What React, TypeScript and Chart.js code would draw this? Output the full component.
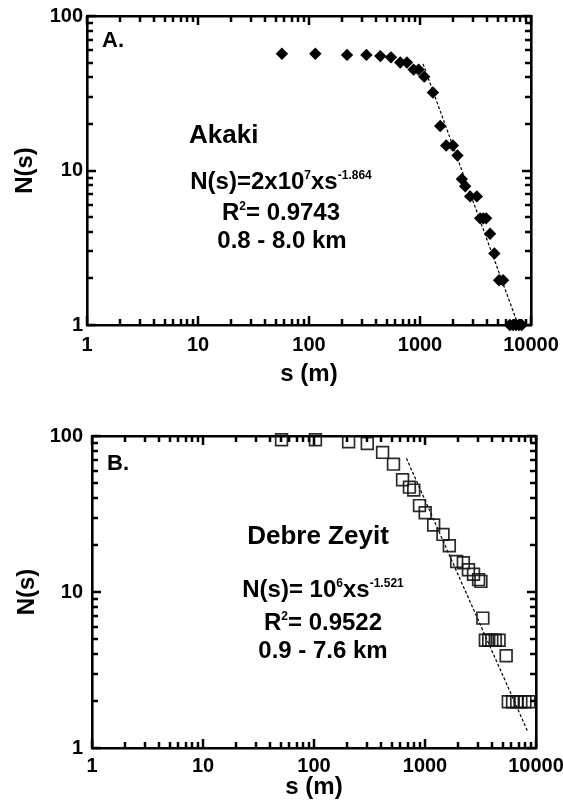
import React, { useEffect, useRef } from "react";
import { Chart, registerables } from "chart.js";

Chart.register(...registerables);

const FONT = "'Liberation Sans', Arial, Helvetica, sans-serif";

// ---------- axes ----------
const xMin = 1;
const xMax = 10000;
const yMin = 1;
const yMax = 100;
const xTickLabels = ["1", "10", "100", "1000", "10000"];
const yTickLabels = ["1", "10", "100"];
const xTitle = "s (m)";
const yTitle = "N(s)";

// ---------- panel A : Akaki ----------
const akakiS = [57, 114, 220, 329, 439, 548, 664, 763, 875, 971, 1092, 1307, 1521, 1722, 1978, 2177, 2383, 2553, 2831, 3251, 3481, 3720, 3942, 4277, 4679, 5156, 5602, 6450, 6900, 7350, 7800, 8250];
const akakiN = [57, 57, 56, 56, 55, 54, 50, 50, 45, 45, 40.5, 32, 19.4, 14.5, 14.5, 12.5, 8.8, 7.9, 6.8, 6.8, 4.9, 4.9, 4.9, 3.9, 2.9, 1.95, 1.95, 1, 1, 1, 1, 1];
const akakiFitS = [1065, 7400];
const akakiFitN = [49, 1.07];

// ---------- panel B : Debre Zeyit ----------
const debreS = [51, 103, 205, 302, 415, 520, 628, 724, 792, 892, 1004, 1197, 1452, 1656, 1928, 2215, 2462, 2736, 3040, 3190, 3320, 3500, 3750, 4000, 4300, 4650, 5385, 5630, 6150, 6700, 7300, 7950, 8630];
const debreN = [94.5, 94.5, 91.8, 89.5, 78.5, 66, 52.4, 47, 45, 35.8, 32.2, 26.9, 23.4, 19.8, 15.7, 15.4, 13.9, 13, 12, 11.7, 6.8, 4.9, 4.9, 4.9, 4.9, 4.9, 3.9, 1.98, 1.98, 1.98, 1.98, 1.98, 1.98];
const debreFitS = [680, 8400];
const debreFitN = [72, 1.28];

const isDecade = (v: number) => Math.abs(Math.log10(v) - Math.round(Math.log10(v))) < 1e-6;
const isMinor = (v: number) => {
  const e = Math.floor(Math.log10(v) + 1e-9);
  const m = v / Math.pow(10, e);
  const r = Math.round(m);
  return Math.abs(m - r) < 1e-6 && r >= 2 && r <= 9;
};

// draws inward tick marks on all four sides from the library's own scale ticks
const innerTicks = {
  id: "innerTicks",
  afterDraw(chart: any) {
    const { ctx, chartArea: a, scales } = chart;
    const sx = scales.x;
    const sy = scales.y;
    ctx.save();
    ctx.strokeStyle = "#000000";
    ctx.lineWidth = 2.5;
    ctx.lineCap = "butt";
    ctx.beginPath();
    for (const t of sx.ticks) {
      const px = Math.round(sx.getPixelForValue(t.value));
      const L = isDecade(t.value) ? 9 : 6;
      ctx.moveTo(px, a.bottom);
      ctx.lineTo(px, a.bottom - L);
      ctx.moveTo(px, a.top);
      ctx.lineTo(px, a.top + L);
    }
    for (const t of sy.ticks) {
      const py = Math.round(sy.getPixelForValue(t.value));
      const L = isDecade(t.value) ? 9 : 6;
      ctx.moveTo(a.left, py);
      ctx.lineTo(a.left + L, py);
      ctx.moveTo(a.right, py);
      ctx.lineTo(a.right - L, py);
    }
    ctx.stroke();
    ctx.restore();
  },
};

type Spec = {
  canvasTop: number;
  height: number;
  left: number;
  right: number;
  top: number;
  bottom: number;
  xLabelPad: number;
  yLabelPad: number;
  xTitlePad: number;
  yTitlePad: number;
  s: number[];
  n: number[];
  fitS: number[];
  fitN: number[];
  marker: "diamond" | "square";
};

function logAxis(position: string, min: number, max: number, size: number, ticks: any, title: any) {
  const horizontal = position === "top" || position === "bottom";
  return {
    type: "logarithmic",
    axis: horizontal ? "x" : "y",
    position,
    min,
    max,
    afterBuildTicks: (scale: any) => {
      scale.ticks = scale.ticks.filter((t: any) => isDecade(t.value) || isMinor(t.value));
    },
    afterFit: (scale: any) => {
      if (horizontal) scale.height = size;
      else scale.width = size;
      scale.paddingLeft = 0;
      scale.paddingRight = 0;
      scale.paddingTop = 0;
      scale.paddingBottom = 0;
    },
    border: { display: true, width: 2.6, color: "#000" },
    grid: { display: false, drawOnChartArea: false, drawTicks: false, tickLength: 0 },
    ticks: ticks || { display: false, autoSkip: false },
    title: title || { display: false },
  };
}

function buildConfig(spec: Spec, width: number): any {
  const tickFont = { family: FONT, size: 20, weight: "bold" };
  const titleFont = { family: FONT, size: 24, weight: "bold" };
  const points = spec.s.map((x, i) => ({ x, y: spec.n[i] }));
  const fit = spec.fitS.map((x, i) => ({ x, y: spec.fitN[i] }));
  const square = spec.marker === "square";
  return {
    type: "scatter",
    data: {
      datasets: [
        {
          data: points,
          xAxisID: "x",
          yAxisID: "y",
          showLine: false,
          clip: false,
          pointStyle: square ? "rect" : "rectRot",
          pointRadius: square ? 8.3 : 6.2,
          pointBackgroundColor: square ? "rgba(0,0,0,0)" : "#000",
          pointBorderColor: square ? "rgba(20,20,20,0.9)" : "#000",
          pointBorderWidth: square ? 1.7 : 0,
        },
        {
          data: fit,
          xAxisID: "x",
          yAxisID: "y",
          showLine: true,
          clip: false,
          borderColor: "#000",
          borderWidth: 1.2,
          borderDash: [3, 2],
          pointRadius: 0,
          fill: false,
        },
      ],
    },
    plugins: [innerTicks],
    options: {
      responsive: false,
      animation: false,
      events: [],
      layout: { padding: 0 },
      plugins: { legend: { display: false }, tooltip: { enabled: false } },
      scales: {
        x: logAxis(
          "bottom",
          xMin,
          xMax,
          spec.height - spec.bottom,
          {
            display: true,
            autoSkip: false,
            maxRotation: 0,
            padding: spec.xLabelPad,
            color: "#000",
            font: tickFont,
            callback: (v: number) => xTickLabels.find((l) => Number(l) === v) ?? "",
          },
          { display: true, text: xTitle, color: "#000", font: titleFont, padding: { top: 0, bottom: spec.xTitlePad } }
        ),
        xt: logAxis("top", xMin, xMax, spec.top, null, null),
        y: logAxis(
          "left",
          yMin,
          yMax,
          spec.left,
          {
            display: true,
            autoSkip: false,
            padding: spec.yLabelPad,
            color: "#000",
            font: tickFont,
            callback: (v: number) => yTickLabels.find((l) => Number(l) === v) ?? "",
          },
          { display: true, text: yTitle, color: "#000", font: titleFont, padding: { top: spec.yTitlePad, bottom: 0 } }
        ),
        yr: logAxis("right", yMin, yMax, width - spec.right, null, null),
      },
    },
  };
}

const W = 563;

const specA: Spec = {
  canvasTop: 0,
  height: 395,
  left: 87,
  right: 531,
  top: 16,
  bottom: 325,
  xLabelPad: 8,
  yLabelPad: 4,
  xTitlePad: 6,
  yTitlePad: 10.6,
  s: akakiS,
  n: akakiN,
  fitS: akakiFitS,
  fitN: akakiFitN,
  marker: "diamond",
};

const specB: Spec = {
  canvasTop: 395,
  height: 416,
  left: 92,
  right: 536,
  top: 41,
  bottom: 353,
  xLabelPad: 6,
  yLabelPad: 9,
  xTitlePad: 9.5,
  yTitlePad: 12.6,
  s: debreS,
  n: debreN,
  fitS: debreFitS,
  fitN: debreFitN,
  marker: "square",
};

function Panel({ spec }: { spec: Spec }) {
  const ref = useRef<HTMLCanvasElement>(null);
  useEffect(() => {
    const chart = new Chart(ref.current as HTMLCanvasElement, buildConfig(spec, W));
    return () => chart.destroy();
  }, [spec]);
  return (
    <canvas
      ref={ref}
      width={W}
      height={spec.height}
      style={{ position: "absolute", left: 0, top: spec.canvasTop, width: W, height: spec.height }}
    />
  );
}

function Txt({
  x,
  baseline,
  size,
  center,
  children,
}: {
  x: number;
  baseline: number;
  size: number;
  center?: boolean;
  children: React.ReactNode;
}) {
  return (
    <div
      style={{
        position: "absolute",
        left: x,
        top: baseline - 0.8465 * size,
        fontFamily: FONT,
        fontWeight: "bold",
        fontSize: size,
        lineHeight: `${size}px`,
        whiteSpace: "nowrap",
        color: "#000",
        transform: center ? "translateX(-50%)" : undefined,
      }}
    >
      {children}
    </div>
  );
}

const Sup = ({ children }: { children: React.ReactNode }) => (
  <span style={{ fontSize: 12, lineHeight: 0, verticalAlign: "10px" }}>{children}</span>
);

export default function App() {
  return (
    <div style={{ position: "absolute", left: 0, top: 0, width: W, height: 811, overflow: "hidden", background: "#fff" }}>
      <Panel spec={specA} />
      <Panel spec={specB} />

      <Txt x={102} baseline={48} size={22}>A.</Txt>
      <Txt x={189} baseline={143} size={26}>Akaki</Txt>
      <Txt x={281} baseline={189} size={24} center>
        N(s)=2x10<Sup>7</Sup>xs<Sup>-1.864</Sup>
      </Txt>
      <Txt x={281} baseline={220} size={24} center>
        R<Sup>2</Sup>= 0.9743
      </Txt>
      <Txt x={282} baseline={248} size={24} center>
        0.8 - 8.0 km
      </Txt>

      <Txt x={107} baseline={471} size={22}>B.</Txt>
      <Txt x={318} baseline={544} size={26} center>
        Debre Zeyit
      </Txt>
      <Txt x={323} baseline={597} size={24} center>
        N(s)= 10<Sup>6</Sup>xs<Sup>-1.521</Sup>
      </Txt>
      <Txt x={323} baseline={630} size={24} center>
        R<Sup>2</Sup>= 0.9522
      </Txt>
      <Txt x={323} baseline={658} size={24} center>
        0.9 - 7.6 km
      </Txt>
    </div>
  );
}
